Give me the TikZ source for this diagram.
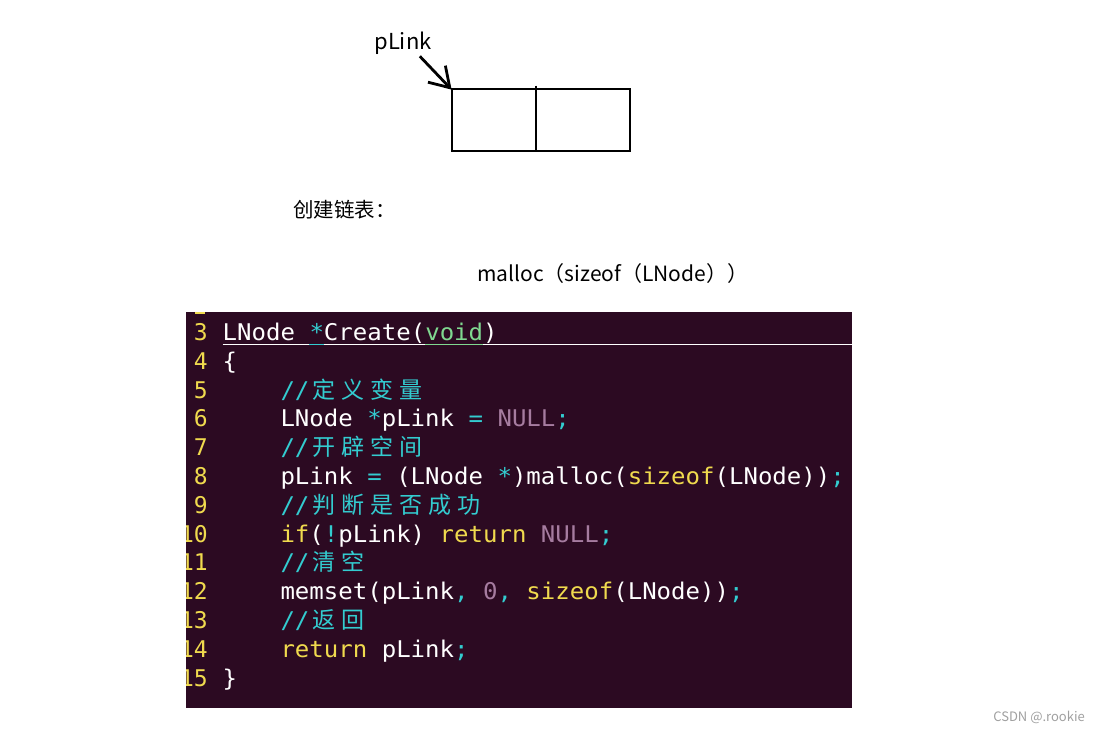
\documentclass[tikz,border=0pt]{standalone}
\usepackage{graphicx}
\usepackage{fontspec}
\usetikzlibrary{arrows.meta}
\newfontfamily\cjk{Noto Sans CJK SC}
\newfontfamily\codefont{DejaVu Sans Mono}
\definecolor{termbg}{HTML}{2C0A22}
\definecolor{numyellow}{HTML}{F0DA4E}
\definecolor{cmtcyan}{HTML}{33CCD0}
\definecolor{tygreen}{HTML}{80D890}
\definecolor{nlpurple}{HTML}{A67CA0}
\definecolor{wmgray}{HTML}{A0A0A0}
\newcommand\cl[1]{\scalebox{1.045}[1]{#1}}
\newcommand\op[1]{\textcolor{cmtcyan}{#1}}
\newcommand\kw[1]{\textcolor{numyellow}{#1}}
\newcommand\ty[1]{\textcolor{tygreen}{#1}}
\newcommand\nl[1]{\textcolor{nlpurple}{#1}}
\newcommand\zh[1]{\makebox[28.94pt][c]{\cjk\fontsize{23}{28}\selectfont\textcolor{cmtcyan}{#1}}}
\newcommand\cm[1]{\cl{\op{//}}#1}

\begin{document}
\begin{tikzpicture}
    [x=1pt, y=-1pt,
     lbl/.style={inner sep=0, font={\cjk\fontsize{22}{26}\selectfont}},
     lnum/.style={anchor=base east, inner sep=0, text=numyellow, font={\codefont\fontsize{23}{28}\selectfont}},
     code/.style={anchor=base west, inner sep=0, text=white, font={\codefont\fontsize{23}{28}\selectfont}},
     uline/.style={line width=1.5pt, white}]
    \fill[white] (0,0) rectangle (1096,730);
    \useasboundingbox (0,0) rectangle (1096,730);

    \node[lbl, anchor=base] (plink) at (403,50) {pLink};
    \node[draw, line width=2.8pt, minimum width=178, minimum height=62, inner sep=0] (box) at (541,120) {};
    \draw[line width=2.8pt] ([xshift=-5pt, yshift=2pt]box.north) -- ([xshift=-5pt]box.south);
    \draw[line width=2.8pt, -{Straight Barb[length=19pt, width=24pt]}] ([xshift=-12pt, yshift=-1pt]plink.south east) -- ([xshift=1pt, yshift=-2pt]box.north west);

    \node[lbl, anchor=base west, font={\cjk\fontsize{20.5}{24}\selectfont}] (title) at (293,218) {创建链表：};
    \node[lbl, anchor=base west, font={\cjk\fontsize{21}{25}\selectfont}] (malloc) at (477,282) {malloc（sizeof（LNode））};

    \node[fill=termbg, minimum width=666, minimum height=396, inner sep=0, anchor=north west] (term) at (186,312) {};
    \begin{scope}
    \clip (term.north west) rectangle (term.south east);
    \fill[numyellow] (195,312) rectangle (205,314.5);
    \foreach \n in {3,...,15}
        \node[lnum] (n\n) at (208, {340.5+(\n-3)*28.8}) {\n};

    \node[code] (l3) at (222.5,340.5) {\cl{LNode \op{*}Create(\ty{void})}};
    \node[code] (l4) at (222.5,369.3) {\cl{\{}};
    \node[code] (l5) at (280.3,398.1) {\cm{\zh{定}\zh{义}\zh{变}\zh{量}}};
    \node[code] (l6) at (280.3,426.9) {\cl{LNode \op{*}pLink \op{=} \nl{NULL}\op{;}}};
    \node[code] (l7) at (280.3,455.7) {\cm{\zh{开}\zh{辟}\zh{空}\zh{间}}};
    \node[code] (l8) at (280.3,484.5) {\cl{pLink \op{=} (LNode \op{*})malloc(\kw{sizeof}(LNode))\op{;}}};
    \node[code] (l9) at (280.3,513.3) {\cm{\zh{判}\zh{断}\zh{是}\zh{否}\zh{成}\zh{功}}};
    \node[code] (l10) at (280.3,542.1) {\cl{\kw{if}(\op{!}pLink) \kw{return} \nl{NULL}\op{;}}};
    \node[code] (l11) at (280.3,570.9) {\cm{\zh{清}\zh{空}}};
    \node[code] (l12) at (280.3,599.7) {\cl{memset(pLink\op{,} \nl{0}\op{,} \kw{sizeof}(LNode))\op{;}}};
    \node[code] (l13) at (280.3,628.5) {\cm{\zh{返}\zh{回}}};
    \node[code] (l14) at (280.3,657.3) {\cl{\kw{return} pLink\op{;}}};
    \node[code] (l15) at (222.5,686.1) {\cl{\}}};

    \coordinate (ul) at ([yshift=-4pt]l3.base west);
    \draw[uline] (ul) -- (ul -| term.east);
    \draw[uline, cmtcyan] ([xshift=86.8pt]ul) -- ([xshift=101.3pt]ul);
    \draw[uline, tygreen] ([xshift=202.6pt]ul) -- ([xshift=260.5pt]ul);
    \end{scope}

    \node[lbl, anchor=base east, text=wmgray, font={\cjk\fontsize{13}{15}\selectfont}] (wm) at (1085,721) {CSDN @.rookie};

\end{tikzpicture}
\end{document}
